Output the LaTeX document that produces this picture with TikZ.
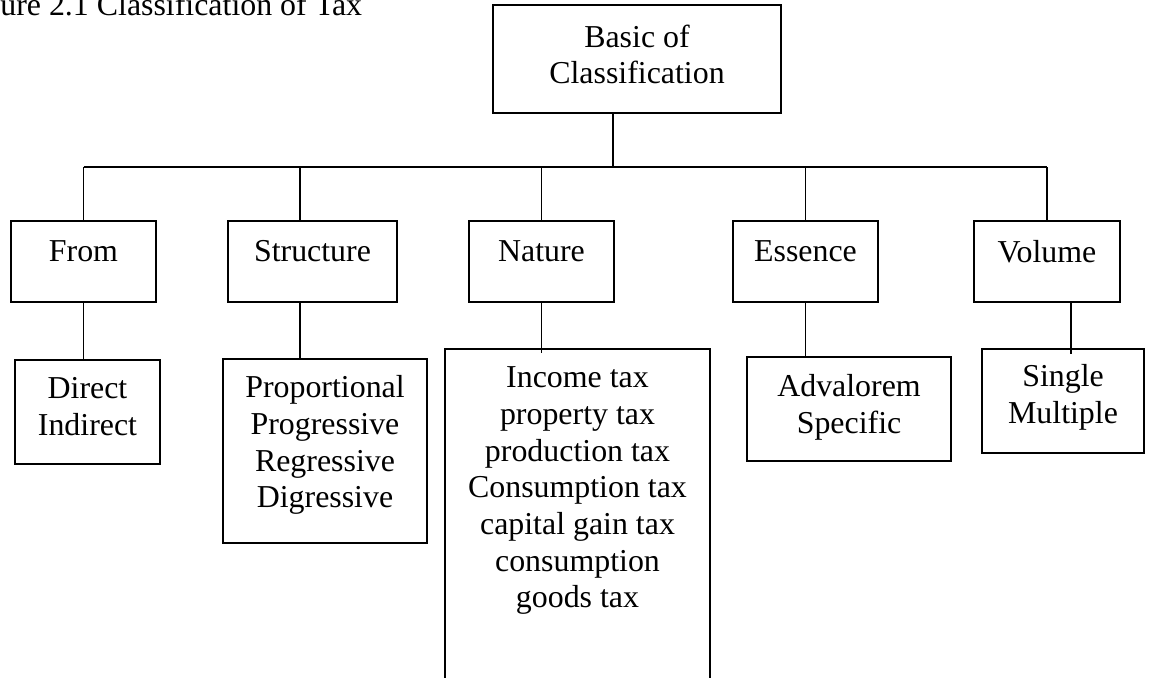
\documentclass[tikz,border=0pt]{standalone}
\usepackage{fontspec}
\setmainfont{Liberation Serif}
\usetikzlibrary{fit, positioning}

\tikzset{
  box/.style={draw, line width=0.75pt, inner sep=0pt},
  lbl/.style={align=center, inner sep=0pt, anchor=north, font=\fontsize{18.15}{20.9}\selectfont},
  link/.style={line width=0.75pt},
}

\begin{document}
\begin{tikzpicture}[x=0.02cm, y=-0.02cm]
    \useasboundingbox (0,0) rectangle (1151,677);
    \node[lbl, anchor=base west] (caption) at (0,15) {ure 2.1 Classification of Tax};

    % root
    \node[box, fit={(493,5) (781,113)}] (root) {};
    \node[lbl, below=0.4cm of root.north] (roottxt) {Basic of\\Classification};

    % first level
    \node[box, fit={(11,221) (156,302)}] (from) {};
    \node[box, fit={(228,221) (397,302)}] (structure) {};
    \node[box, fit={(469,221) (614,302)}] (nature) {};
    \node[box, fit={(733,221) (878,302)}] (essence) {};
    \node[box, fit={(974,221) (1120,302)}] (volume) {};
    \node[lbl, below=0.4cm of from.north] (fromtxt) {From};
    \node[lbl, below=0.4cm of structure.north] (structuretxt) {Structure};
    \node[lbl, below=0.4cm of nature.north] (naturetxt) {Nature};
    \node[lbl, below=0.4cm of essence.north] (essencetxt) {Essence};
    \node[lbl, below=0.4cm of volume.north] (volumetxt) {Volume};

    % second level
    \node[box, fit={(15,360) (160,464)}] (fromkids) {};
    \node[box, fit={(223,359) (427,543)}] (structkids) {};
    \node[box, fit={(445,349) (710,680)}] (naturekids) {};
    \node[box, fit={(747,357) (951,461)}] (essencekids) {};
    \node[box, fit={(982,349) (1144,453)}] (volumekids) {};
    \node[lbl, below=0.36cm of fromkids.north] (fromkidstxt) {Direct\\Indirect};
    \node[lbl, below=0.34cm of structkids.north] (structkidstxt) {Proportional\\Progressive\\Regressive\\Digressive};
    \node[lbl, below=0.36cm of naturekids.north] (naturekidstxt) {Income tax\\property tax\\production tax\\Consumption tax\\capital gain tax\\consumption\\goods tax};
    \node[lbl, below=0.36cm of essencekids.north] (essencekidstxt) {Advalorem\\Specific};
    \node[lbl, below=0.32cm of volumekids.north] (volumekidstxt) {Single\\Multiple};

    % connectors
    \coordinate (bus) at (613,167);
    \draw[link] (bus |- root.south) -- (bus);
    \draw[link] (from.north |- bus) -- (volume.north |- bus);
    \draw[link] (from.north) -- (from.north |- bus);
    \draw[link] ([xshift=-0.25cm]structure.north) -- ([xshift=-0.25cm]structure.north |- bus);
    \draw[link] (nature.north) -- (nature.north |- bus);
    \draw[link] (essence.north) -- (essence.north |- bus);
    \draw[link] (volume.north) -- (volume.north |- bus);

    \draw[link] (from.south) -- (from.south |- fromkids.north);
    \draw[link] ([xshift=-0.25cm]structure.south) -- ([xshift=-0.25cm]structure.south |- structkids.north);
    \draw[link, shorten >=-0.1cm] (nature.south) -- (nature.south |- naturekids.north);
    \draw[link] (essence.south) -- (essence.south |- essencekids.north);
    \draw[link, shorten >=-0.12cm] ([xshift=0.48cm]volume.south) -- ([xshift=0.48cm]volume.south |- volumekids.north);
\end{tikzpicture}
\end{document}
